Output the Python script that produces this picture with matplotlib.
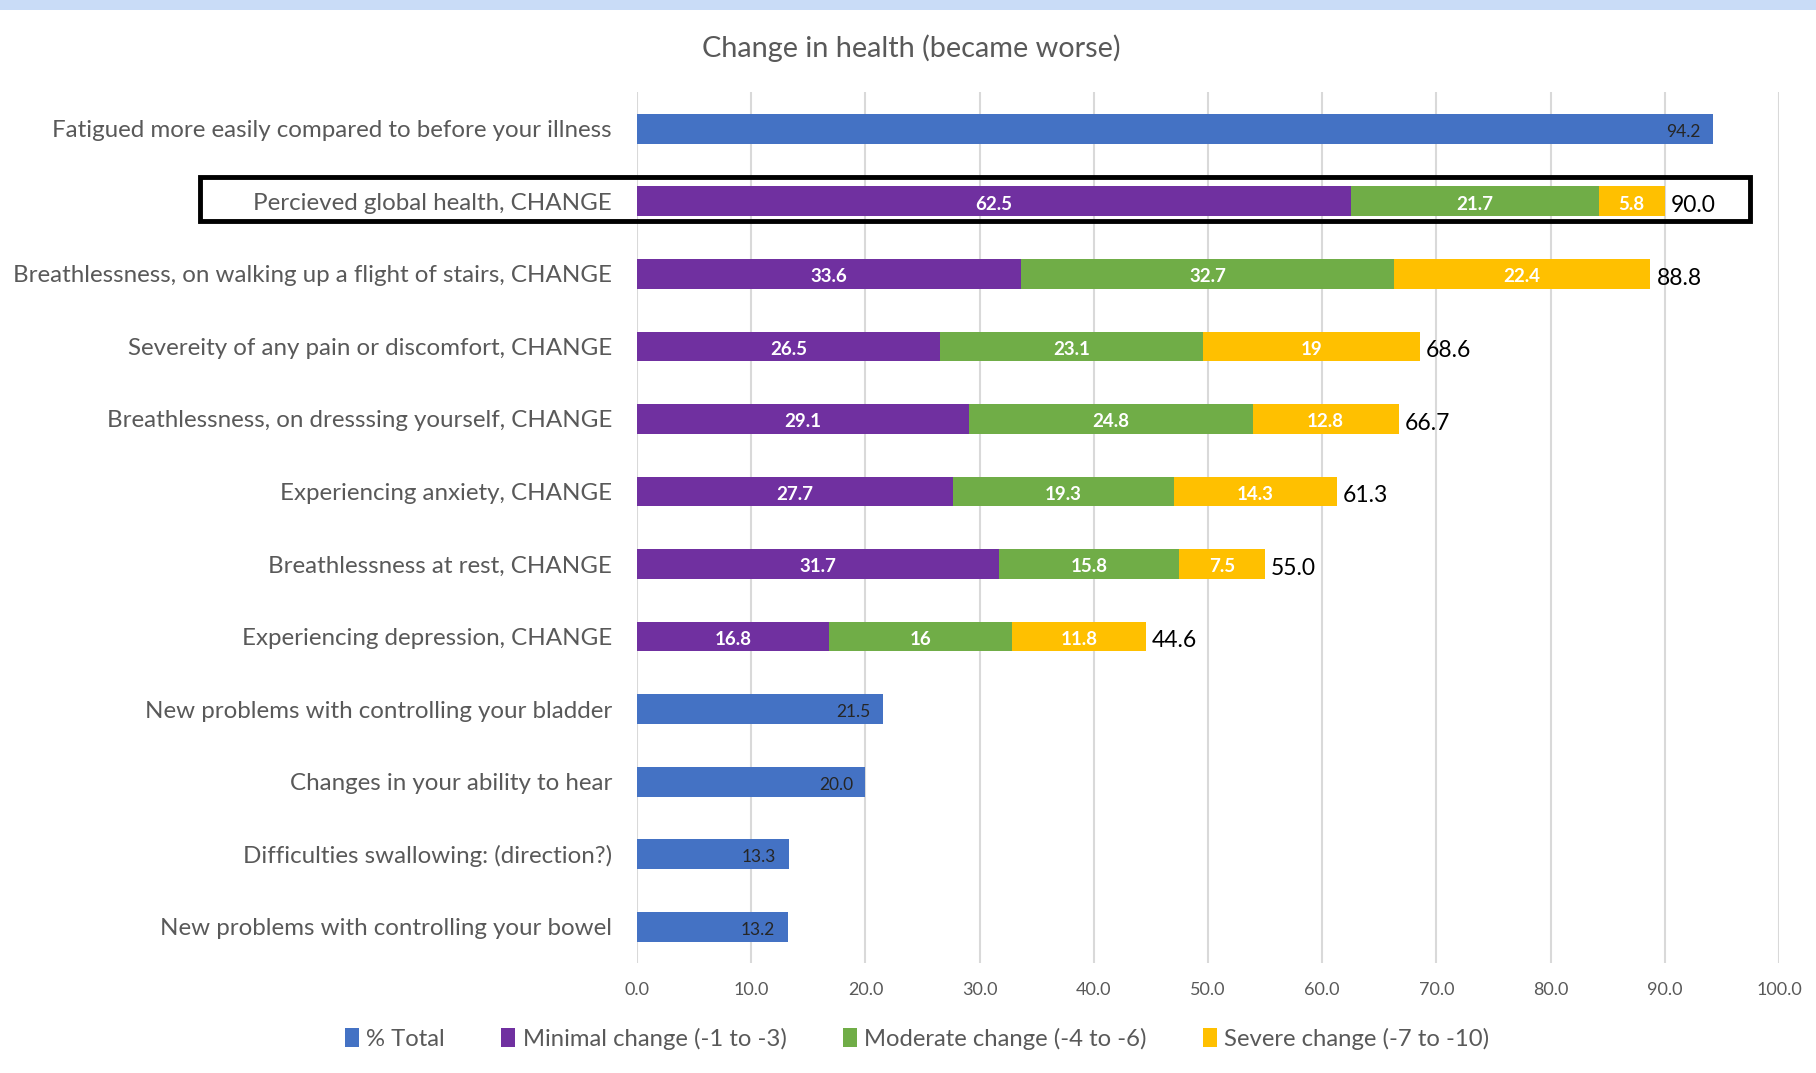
import numpy as np
import matplotlib
matplotlib.use("Agg")
from matplotlib import pyplot as plt
from matplotlib.patches import Rectangle

plt.rcParams['font.family'] = ['Lato', 'DejaVu Sans']

categories = [
    "Fatigued more easily compared to before your illness",
    "Percieved global health, CHANGE",
    "Breathlessness, on walking up a flight of stairs, CHANGE",
    "Severeity of any pain or discomfort, CHANGE",
    "Breathlessness, on dresssing yourself, CHANGE",
    "Experiencing anxiety, CHANGE",
    "Breathlessness at rest, CHANGE",
    "Experiencing depression, CHANGE",
    "New problems with controlling your bladder",
    "Changes in your ability to hear",
    "Difficulties swallowing: (direction?)",
    "New problems with controlling your bowel",
]
nan = np.nan
pct_total = [94.2, nan, nan, nan, nan, nan, nan, nan, 21.5, 20.0, 13.3, 13.2]
minimal = [nan, 62.5, 33.6, 26.5, 29.1, 27.7, 31.7, 16.8, nan, nan, nan, nan]
moderate = [nan, 21.7, 32.7, 23.1, 24.8, 19.3, 15.8, 16.0, nan, nan, nan, nan]
severe = [nan, 5.8, 22.4, 19.0, 12.8, 14.3, 7.5, 11.8, nan, nan, nan, nan]
stack_total = [nan, 90.0, 88.8, 68.6, 66.7, 61.3, 55.0, 44.6, nan, nan, nan, nan]
xticks = [0, 10, 20, 30, 40, 50, 60, 70, 80, 90, 100]

BLUE = "#4472C4"
PURPLE = "#7030A0"
GREEN = "#70AD47"
YELLOW = "#FFC000"
GREY = "#595959"

fig = plt.figure(figsize=(18.16, 10.73), dpi=100)
ax = fig.add_axes([0.3508, 0.1025, 0.6288, 0.8113])

y = np.arange(len(categories))
h = 0.41
mn = np.nan_to_num(minimal)
md = np.nan_to_num(moderate)
sv = np.nan_to_num(severe)

ax.barh(y, np.nan_to_num(pct_total), height=h, color=BLUE, label="% Total", zorder=3)
ax.barh(y, mn, height=h, color=PURPLE, label="Minimal change (-1 to -3)", zorder=3)
ax.barh(y, md, left=mn, height=h, color=GREEN, label="Moderate change (-4 to -6)", zorder=3)
ax.barh(y, sv, left=mn + md, height=h, color=YELLOW, label="Severe change (-7 to -10)", zorder=3)

# value labels
for i in range(len(categories)):
    if not np.isnan(pct_total[i]):
        ax.text(pct_total[i] - 1.1, i + 0.04, f"{pct_total[i]:.1f}", ha="right", va="center",
                fontsize=12.5, color="#262626", zorder=4)
    else:
        start = 0
        for v in (minimal[i], moderate[i], severe[i]):
            ax.text(start + v / 2, i + 0.04, f"{v:g}", ha="center", va="center",
                    fontsize=13.5, color="white", fontweight="bold", zorder=4)
            start += v
        ax.text(stack_total[i] + 0.5, i + 0.06, f"{stack_total[i]:.1f}", ha="left", va="center",
                fontsize=16.5, color="black", zorder=4)

ax.set_ylim(len(categories) - 0.5, -0.5)
ax.set_xlim(0, 100)
ax.set_yticks(y)
ax.set_yticklabels(categories, fontsize=17.4, color=GREY)
ax.set_xticks(xticks)
ax.set_xticklabels([f"{t:.1f}" for t in xticks], fontsize=13, color=GREY)
ax.tick_params(axis="both", length=0)
ax.tick_params(axis="y", pad=18)
ax.tick_params(axis="x", pad=14)
for s in ax.spines.values():
    s.set_visible(False)
ax.grid(axis="x", color="#D9D9D9", linewidth=1.5, zorder=0)

# highlight box around the global health row
ax.add_patch(Rectangle((-38.3, 1 - 0.33), 97.5 + 38.3, 0.6, fill=False,
                       edgecolor="black", linewidth=3.5, clip_on=False, zorder=5))

fig.suptitle("Change in health (became worse)", x=0.502, y=0.968, fontsize=20.8, color=GREY)

handles, labels = ax.get_legend_handles_labels()
fig.legend(handles, labels, loc="center", bbox_to_anchor=(0.505, 0.032), ncol=4,
           frameon=False, fontsize=17.2, labelcolor=GREY, handlelength=0.6, handleheight=0.9,
           handletextpad=0.3, columnspacing=2.35)

# light band along the top edge
fig.patches.append(Rectangle((0, 0.991), 1, 0.009, transform=fig.transFigure,
                             facecolor="#C9DCF7", edgecolor="none"))

fig.savefig("out.png", dpi=100)
